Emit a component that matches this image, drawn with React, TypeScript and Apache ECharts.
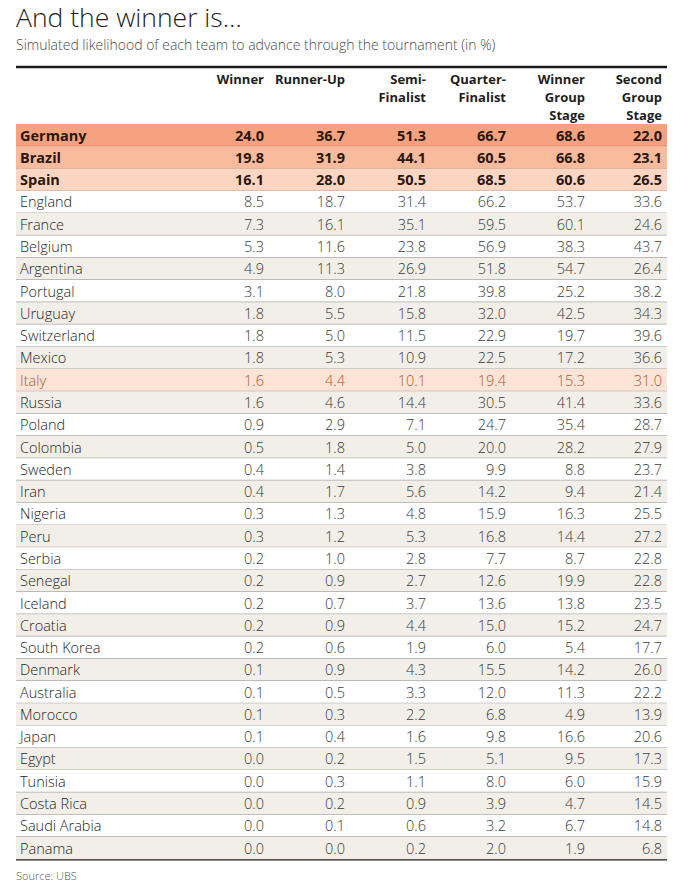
import React, { useEffect, useRef } from "react";
import * as echarts from "echarts";

const teams = [
  "Germany", "Brazil", "Spain", "England", "France", "Belgium", "Argentina", "Portugal",
  "Uruguay", "Switzerland", "Mexico", "Italy", "Russia", "Poland", "Colombia", "Sweden",
  "Iran", "Nigeria", "Peru", "Serbia", "Senegal", "Iceland", "Croatia", "South Korea",
  "Denmark", "Australia", "Morocco", "Japan", "Egypt", "Tunisia", "Costa Rica",
  "Saudi Arabia", "Panama",
];
const winner = [24.0, 19.8, 16.1, 8.5, 7.3, 5.3, 4.9, 3.1, 1.8, 1.8, 1.8, 1.6, 1.6, 0.9, 0.5, 0.4, 0.4, 0.3, 0.3, 0.2, 0.2, 0.2, 0.2, 0.2, 0.1, 0.1, 0.1, 0.1, 0.0, 0.0, 0.0, 0.0, 0.0];
const runnerUp = [36.7, 31.9, 28.0, 18.7, 16.1, 11.6, 11.3, 8.0, 5.5, 5.0, 5.3, 4.4, 4.6, 2.9, 1.8, 1.4, 1.7, 1.3, 1.2, 1.0, 0.9, 0.7, 0.9, 0.6, 0.9, 0.5, 0.3, 0.4, 0.2, 0.3, 0.2, 0.1, 0.0];
const semiFinalist = [51.3, 44.1, 50.5, 31.4, 35.1, 23.8, 26.9, 21.8, 15.8, 11.5, 10.9, 10.1, 14.4, 7.1, 5.0, 3.8, 5.6, 4.8, 5.3, 2.8, 2.7, 3.7, 4.4, 1.9, 4.3, 3.3, 2.2, 1.6, 1.5, 1.1, 0.9, 0.6, 0.2];
const quarterFinalist = [66.7, 60.5, 68.5, 66.2, 59.5, 56.9, 51.8, 39.8, 32.0, 22.9, 22.5, 19.4, 30.5, 24.7, 20.0, 9.9, 14.2, 15.9, 16.8, 7.7, 12.6, 13.6, 15.0, 6.0, 15.5, 12.0, 6.8, 9.8, 5.1, 8.0, 3.9, 3.2, 2.0];
const winnerGroupStage = [68.6, 66.8, 60.6, 53.7, 60.1, 38.3, 54.7, 25.2, 42.5, 19.7, 17.2, 15.3, 41.4, 35.4, 28.2, 8.8, 9.4, 16.3, 14.4, 8.7, 19.9, 13.8, 15.2, 5.4, 14.2, 11.3, 4.9, 16.6, 9.5, 6.0, 4.7, 6.7, 1.9];
const secondGroupStage = [22.0, 23.1, 26.5, 33.6, 24.6, 43.7, 26.4, 38.2, 34.3, 39.6, 36.6, 31.0, 33.6, 28.7, 27.9, 23.7, 21.4, 25.5, 27.2, 22.8, 22.8, 23.5, 24.7, 17.7, 26.0, 22.2, 13.9, 20.6, 17.3, 15.9, 14.5, 14.8, 6.8];
const columnHeaders = [
  "Winner", "Runner-Up", "Semi-\nFinalist", "Quarter-\nFinalist",
  "Winner\nGroup\nStage", "Second\nGroup\nStage",
];
const featuredTeams = ["Germany", "Brazil", "Spain"];
const highlightedTeams = ["Italy"];

const columns = [winner, runnerUp, semiFinalist, quarterFinalist, winnerGroupStage, secondGroupStage];

// layout (pixels)
const GRID_LEFT = 16;
const GRID_RIGHT = 16;
const GRID_TOP = 124;
const ROW_H = 22.28;
const COL_RIGHT = [264, 345, 426, 506, 585, 662];
const FONT = "'Open Sans', 'Noto Sans', sans-serif";
const featuredFills = ["#f6a27f", "#f9bb9b", "#fcd6c2"];
const highlightFill = "#fde4d6";
const stripeFill = "#f2eee8";

export default function App() {
  const ref = useRef<HTMLDivElement>(null);
  useEffect(() => {
    document.body.style.margin = "0";
    const chart = echarts.init(ref.current!, null, { renderer: "svg" });
    const gridH = ROW_H * teams.length;
    const bottomY = GRID_TOP + gridH;

    const rowData = teams.map((_, i) => [0, i]);

    const option: any = {
      animation: false,
      backgroundColor: "#ffffff",
      grid: { left: GRID_LEFT, right: GRID_RIGHT, top: GRID_TOP, height: gridH },
      xAxis: { type: "value", min: 0, max: 1, show: false },
      yAxis: { type: "category", data: teams, inverse: true, show: false },
      series: [
        {
          type: "custom",
          silent: true,
          data: rowData,
          encode: { x: 0, y: 1 },
          renderItem: (params: any, api: any) => {
            const i = api.value(1);
            const name = teams[i];
            const pt = api.coord([0, i]);
            const cy = pt[1];
            const h = api.size([0, 1])[1];
            const cs = params.coordSys;
            const x0 = cs.x;
            const w = cs.width;
            const fi = featuredTeams.indexOf(name);
            const isHi = highlightedTeams.indexOf(name) >= 0;
            let fill = i % 2 === 0 ? stripeFill : "#ffffff";
            if (fi >= 0) fill = featuredFills[fi];
            else if (isHi) fill = highlightFill;
            const bold = fi >= 0;
            const textColor = bold ? "#2a160c" : isHi ? "#a85a36" : "#262626";
            const numColor = bold ? "#2a160c" : isHi ? "#a85a36" : "#3a3a3a";
            const children: any[] = [
              {
                type: "rect",
                shape: { x: x0, y: cy - h / 2, width: w, height: h },
                style: { fill },
              },
            ];
            if (i < teams.length - 1) {
              children.push({
                type: "line",
                shape: { x1: x0, y1: cy + h / 2, x2: x0 + w, y2: cy + h / 2 },
                style: { stroke: bold ? "rgba(150,90,60,0.55)" : "#a9a9a9", lineWidth: 1.3 },
              });
            }
            children.push({
              type: "text",
              style: {
                text: name,
                x: x0 + 4,
                y: cy,
                align: "left",
                verticalAlign: "middle",
                fill: textColor,
                font: `${bold ? "bold 14.5px" : "300 14.5px"} ${FONT}`,
              },
            });
            columns.forEach((col, k) => {
              children.push({
                type: "text",
                style: {
                  text: col[i].toFixed(1),
                  x: COL_RIGHT[k],
                  y: cy,
                  align: "right",
                  verticalAlign: "middle",
                  fill: numColor,
                  font: `${bold ? "bold 14.5px" : "300 14.5px"} ${FONT}`,
                },
              });
            });
            return { type: "group", children };
          },
        },
      ],
      graphic: [
        {
          type: "text",
          x: 16,
          y: 16.5,
          style: {
            text: "And the winner is…",
            verticalAlign: "middle",
            lineHeight: 26,
            fill: "#1e1e1e",
            font: `300 26.5px ${FONT}`,
          },
        },
        {
          type: "text",
          x: 16,
          y: 44.5,
          style: {
            text: "Simulated likelihood of each team to advance through the tournament (in %)",
            verticalAlign: "middle",
            lineHeight: 15,
            fill: "#4a4a4a",
            font: `300 14px ${FONT}`,
          },
        },
        {
          type: "line",
          shape: { x1: 16, y1: 67, x2: 683 - GRID_RIGHT, y2: 67 },
          style: { stroke: "#1c1c1c", lineWidth: 2.5 },
        },
        ...columnHeaders.map((t, k) => ({
          type: "text",
          x: COL_RIGHT[k],
          y: 70,
          style: {
            text: t,
            align: "right",
            verticalAlign: "top",
            lineHeight: 18,
            fill: "#1e1e1e",
            font: `bold 13px ${FONT}`,
          },
        })),
        {
          type: "line",
          shape: { x1: 16, y1: bottomY, x2: 683 - GRID_RIGHT, y2: bottomY },
          style: { stroke: "#1c1c1c", lineWidth: 2.5 },
        },
        {
          type: "text",
          x: 16,
          y: bottomY + 16,
          style: {
            text: "Source: UBS",
            verticalAlign: "middle",
            fill: "#555555",
            font: `300 11px ${FONT}`,
          },
        },
      ],
    };
    chart.setOption(option);
    return () => chart.dispose();
  }, []);
  return (
    <div
      ref={ref}
      style={{ position: "absolute", left: 0, top: 0, width: 683, height: 887 }}
    />
  );
}
